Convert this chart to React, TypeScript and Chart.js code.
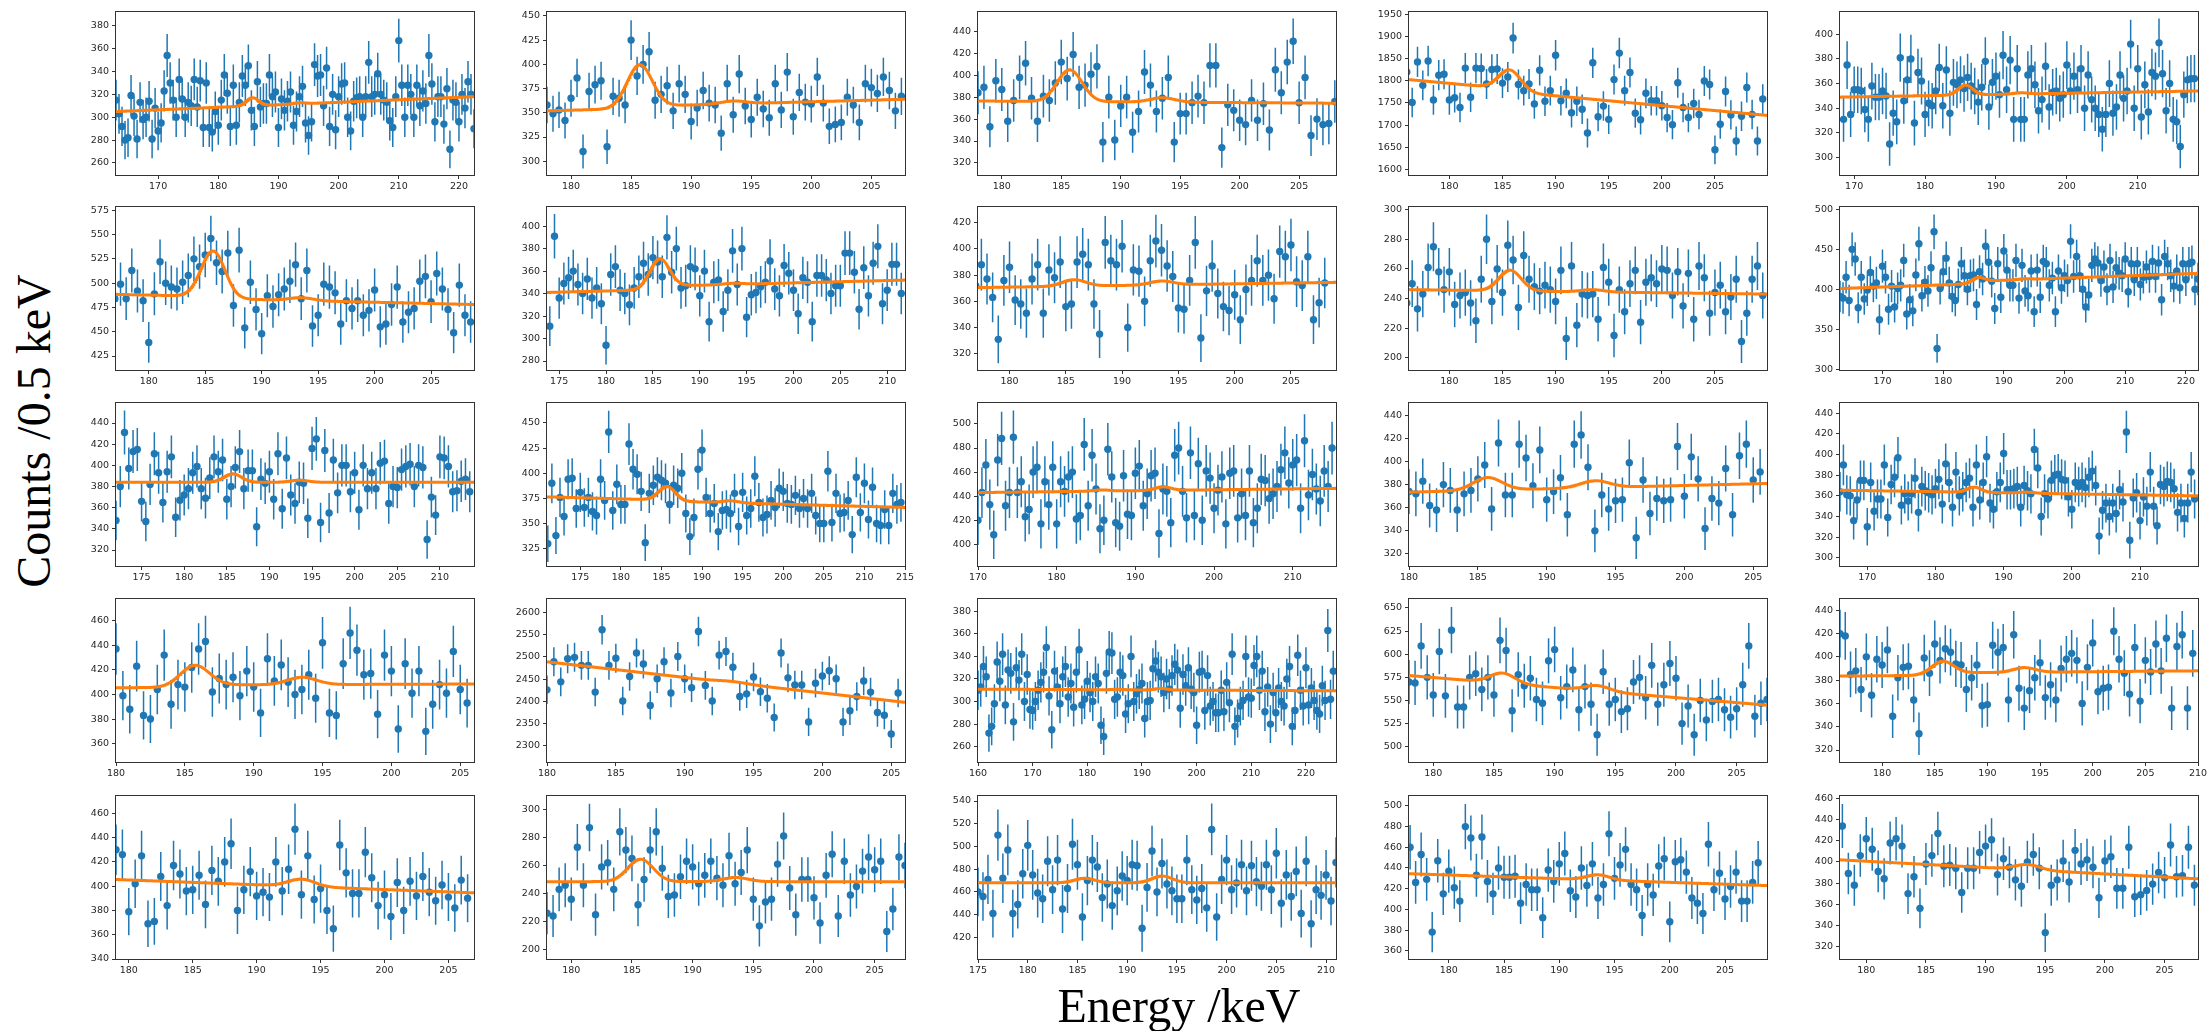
import React, { useEffect, useRef } from "react";
import { Chart, registerables } from "chart.js";

Chart.register(...registerables);

// Counts per 0.5 keV bin for each spectrum (row by row, left to right)
const countsR1C1 = [315,303,292,280,282,319,301,281,313,298,300,314,281,308,288,295,323,354,330,315,300,333,316,300,313,310,333,309,332,291,330,291,287,305,293,315,337,321,292,328,293,313,336,328,345,306,292,331,309,312,312,337,318,322,291,316,306,314,322,293,305,318,327,295,284,296,346,336,337,310,343,292,320,289,318,329,330,300,288,314,317,318,300,318,348,318,320,338,320,315,313,297,291,318,367,328,300,328,320,300,328,310,323,312,354,329,296,318,318,294,325,272,315,313,296,320,308,331,320,290];
const countsR1C2 = [358,349,353,342,365,386,310,372,379,383,315,367,365,358,425,388,400,413,363,369,378,352,380,369,341,355,373,360,358,329,380,348,390,357,343,366,354,345,380,353,392,346,371,361,359,387,360,336,338,340,366,358,340,380,376,370,387,373,352,367];
const countsR1C3 = [384,389,353,395,387,358,377,398,411,379,358,381,377,393,412,397,419,389,391,401,408,339,380,341,372,380,348,367,403,391,367,379,398,339,365,365,375,381,375,409,409,334,373,368,359,355,377,359,374,350,405,384,412,431,375,398,345,360,355,356,376];
const countsR1C4 = [1820,1751,1843,1790,1845,1757,1813,1815,1757,1762,1740,1829,1763,1829,1828,1793,1826,1827,1795,1809,1897,1792,1778,1793,1748,1824,1754,1778,1858,1755,1772,1728,1754,1736,1682,1841,1719,1743,1713,1803,1863,1778,1819,1727,1712,1772,1755,1755,1744,1717,1701,1796,1740,1717,1749,1724,1800,1792,1644,1702,1776,1723,1664,1720,1785,1724,1664,1759];
const countsR1C5 = [331,375,335,355,355,354,339,331,358,349,349,354,350,311,336,329,381,346,363,380,328,369,362,335,344,342,354,373,342,371,336,361,359,363,356,365,358,354,345,357,378,341,361,366,351,383,355,379,331,372,331,331,367,372,359,338,347,374,341,353,354,348,351,375,354,366,355,372,340,367,347,340,335,323,335,360,336,341,367,348,354,392,340,372,333,359,337,369,366,393,368,338,360,331,329,309,351,363,364,364];

const countsR2C1 = [484,499,484,513,492,482,439,489,522,500,496,494,501,508,525,517,529,546,521,512,531,477,534,454,501,473,448,487,476,488,494,502,519,484,513,456,467,499,496,490,458,482,474,482,467,472,493,455,458,478,496,460,470,474,502,507,481,510,494,473,449,498,467,460];
const countsR2C2 = [311,391,336,349,354,360,348,340,353,336,345,331,294,357,364,343,340,330,345,355,367,357,372,368,355,390,359,380,345,347,364,362,338,360,315,350,352,324,343,378,348,380,319,339,341,346,350,369,344,338,365,358,343,322,354,350,315,356,356,352,340,347,347,376,376,359,326,363,338,367,382,331,343,366,366,340];
const countsR2C3 = [372,388,377,363,331,376,386,361,358,351,377,388,351,384,378,390,356,358,390,396,388,358,335,405,391,388,402,340,384,383,360,391,406,399,387,379,355,354,376,405,332,368,387,366,356,353,365,346,369,376,391,376,380,362,398,394,403,375,372,394,346,359,374];
const countsR2C4 = [237,250,233,243,261,275,258,246,258,236,242,244,237,225,253,280,238,260,244,276,266,234,269,253,248,245,249,246,238,259,213,262,222,243,242,243,226,261,251,215,246,231,250,259,224,251,254,250,260,259,242,258,235,257,226,262,254,230,244,249,231,241,253,211,230,253,262,242];
const countsR2C5 = [391,389,415,386,450,438,377,415,388,399,421,404,408,362,429,415,375,404,378,401,405,436,369,387,373,418,457,392,409,398,427,472,326,401,422,439,408,391,386,406,432,417,400,417,418,381,422,413,454,434,410,376,432,390,448,424,405,405,436,389,430,398,392,423,372,424,390,435,432,405,414,372,423,402,417,411,460,416,441,417,400,378,393,430,438,433,411,428,400,436,403,427,420,417,438,397,432,412,432,406,415,428,416,435,416,433,387,441,432,417,404,423,402,432,412,432,434,400,413];

const countsR3C1 = [348,380,431,397,413,415,366,347,382,411,393,365,394,408,351,367,372,378,393,399,378,369,388,408,394,405,368,380,398,413,378,395,395,342,387,383,394,368,411,359,407,372,364,384,383,350,416,425,346,414,355,405,374,400,400,375,393,358,400,378,393,378,402,404,364,380,379,396,399,401,380,400,398,330,370,353,408,407,399,375,376,385,387,375];
const countsR3C2 = [330,390,338,376,357,394,395,365,381,366,376,362,358,394,373,441,363,389,369,369,429,404,399,382,331,380,388,396,393,390,369,388,385,400,360,337,356,404,423,376,360,370,342,363,364,360,380,347,381,358,365,397,371,356,359,373,366,385,382,370,369,378,365,375,365,380,358,350,350,402,351,380,360,361,373,339,396,361,390,354,386,350,348,364,348,380,369,371];
const countsR3C3 = [420,443,466,433,408,470,488,432,443,489,443,452,423,429,460,464,417,452,433,464,417,452,444,456,460,421,424,483,432,474,446,413,420,479,456,418,415,457,425,424,459,465,432,442,457,459,409,446,444,418,474,480,444,422,476,424,467,420,461,455,430,445,456,417,459,461,422,442,424,461,418,430,454,453,438,442,448,462,476,451,466,470,430,486,441,458,446,436,461,448,480];
const countsR3C4 = [374,372,383,362,358,380,375,358,372,375,385,397,359,416,371,371,415,403,379,410,367,374,386,354,415,423,395,340,371,359,366,367,399,334,384,355,368,366,367,413,370,404,385,342,368,364,394,354,405,415,384,391];
const countsR3C5 = [364,390,361,360,336,356,375,375,330,373,345,357,357,390,339,371,378,397,351,362,355,362,377,344,369,365,363,361,367,376,352,391,373,349,383,360,364,373,377,349,390,356,373,398,353,347,364,373,401,366,366,367,369,349,370,365,362,405,387,340,362,357,375,380,381,376,375,359,347,373,369,373,368,378,384,370,321,346,353,340,353,343,366,354,422,317,358,363,336,359,350,383,350,331,371,369,374,373,367,344,353,338,353,383,357];

const countsR4C1 = [437,399,388,423,383,380,404,432,392,408,406,422,437,443,402,413,408,414,399,419,406,385,429,411,424,410,400,404,416,397,442,385,383,425,450,436,416,417,384,432,419,372,425,401,419,370,392,408,401,435,404,393];
const countsR4C2 = [2426,2489,2444,2496,2499,2481,2481,2421,2561,2481,2497,2401,2456,2509,2484,2391,2451,2489,2419,2501,2451,2431,2557,2436,2401,2504,2512,2477,2411,2417,2455,2422,2407,2364,2509,2453,2437,2437,2354,2441,2457,2469,2451,2354,2379,2411,2446,2421,2375,2369,2327,2419];
const countsR4C3 = [310,313,331,322,272,278,298,335,318,342,297,328,325,282,330,319,342,300,324,293,292,300,310,317,326,348,305,275,327,313,298,322,331,304,316,295,326,346,297,302,318,308,300,322,316,279,269,325,344,343,302,304,326,323,289,298,340,300,307,311,316,285,300,301,329,336,326,322,308,320,311,323,333,328,294,324,314,330,311,308,279,326,327,292,323,296,300,290,290,310,291,317,299,342,278,285,296,301,340,304,303,332,340,310,327,291,313,280,308,290,312,300,296,320,331,278,292,341,310,296,330,297,312,301,292,289,314,301,363,302,327];
const countsR4C4 = [570,569,609,575,556,603,555,626,543,543,575,579,562,575,556,615,604,539,578,566,574,551,547,593,605,553,565,583,540,565,546,513,581,546,551,538,541,570,575,553,588,546,567,590,574,525,544,513,550,529,549,551,540,532,541,567,609,533,547,551];
const countsR4C5 = [420,418,385,388,372,400,367,398,393,406,349,382,391,392,363,334,399,386,411,397,407,404,394,393,372,382,393,358,359,410,404,408,363,419,373,356,371,382,395,365,376,363,390,398,403,397,360,391,412,370,373,374,422,398,386,368,408,362,397,387,411,388,416,356,409,419,356,403];

const countsR5C1 = [430,426,379,402,425,369,371,408,384,417,410,396,397,409,385,413,404,420,435,380,397,412,392,395,391,420,396,414,447,393,425,389,398,380,365,434,411,394,394,428,407,384,393,375,403,380,404,392,408,395,388,401,391,382,405,390];
const countsR5C2 = [226,224,243,246,236,273,246,287,225,259,262,243,284,271,265,232,250,271,284,258,238,239,252,263,259,247,253,263,251,246,267,247,255,271,236,217,234,236,261,281,244,225,250,250,237,219,253,268,224,263,239,245,256,266,257,263,213,229,266,260];
const countsR5C3 = [460,456,471,441,510,472,497,441,449,476,501,475,459,454,487,462,488,445,463,502,484,438,470,488,482,455,467,448,461,474,470,484,483,428,464,496,460,485,467,461,454,454,488,462,453,463,446,515,438,471,488,462,468,484,461,483,469,465,484,462,494,450,475,456,478,441,487,432,462,457,475,452,486];
const countsR5C4 = [460,426,453,429,378,447,415,437,421,408,480,469,433,470,427,415,440,431,431,432,406,424,419,419,392,438,427,444,454,418,412,440,423,444,411,424,473,430,443,458,424,419,394,424,414,442,449,388,446,448,436,411,406,396,463,419,435,410,422,436,408,408,426,445];
const countsR5C5 = [434,389,378,406,422,412,391,384,418,422,415,370,386,356,398,406,427,396,397,394,371,394,394,409,415,421,388,403,395,383,377,400,407,394,333,378,383,401,381,411,398,402,395,366,401,405,375,375,414,367,369,373,379,390,385,416,386,387,414,378];

const spectra = [
  countsR1C1, countsR1C2, countsR1C3, countsR1C4, countsR1C5,
  countsR2C1, countsR2C2, countsR2C3, countsR2C4, countsR2C5,
  countsR3C1, countsR3C2, countsR3C3, countsR3C4, countsR3C5,
  countsR4C1, countsR4C2, countsR4C3, countsR4C4, countsR4C5,
  countsR5C1, countsR5C2, countsR5C3, countsR5C4, countsR5C5,
];

// Energy of the first bin of each spectrum (keV); bins are 0.5 keV wide
const firstBinEnergy = [163, 178, 178, 176, 168.5, 177, 174, 177, 176, 163, 172, 171, 170, 180, 166, 180, 180, 160, 178, 176, 179, 178, 175, 176.5, 178];
const binWidth = 0.5;

// Axis limits
const energyLimits = [
  [163, 222.5], [178, 207.8], [178, 208.1], [176.2, 209.9], [168, 218.5],
  [177.1, 208.8], [173.7, 211.9], [177.2, 209], [176.2, 209.9], [163, 222],
  [172, 214], [170.9, 215], [170, 215.5], [180, 206], [166, 218.5],
  [180, 206], [180, 206], [160, 225.5], [178, 207.5], [176, 210],
  [179, 207], [178, 207.5], [175, 211], [176.4, 208.8], [177.8, 207.8],
];
const countLimits = [
  [249.5, 392], [285.8, 454], [309, 457.7], [1587, 1956], [285.9, 418],
  [410.6, 578.4], [272, 417], [307.6, 432], [191.7, 301.8], [299, 503],
  [304.9, 458.9], [307.8, 469.8], [382, 517.4], [309.6, 450.6], [292, 450],
  [345.1, 477.6], [2264, 2630], [246.4, 390.9], [483.5, 659.7], [309.7, 449.7],
  [340, 474.3], [193.4, 309.5], [401, 544.4], [352, 509.6], [308, 462.5],
];
const energyTickStep = [10, 5, 5, 5, 10, 5, 5, 5, 5, 10, 5, 5, 10, 5, 10, 5, 5, 10, 5, 5, 5, 5, 5, 5, 5];
const countTickStep = [20, 25, 20, 50, 20, 25, 20, 20, 20, 50, 20, 25, 20, 20, 20, 20, 50, 20, 25, 20, 20, 20, 20, 20, 20];

// Relative size of the plotted error bars (Poisson sqrt(N) times this)
const errorFactor = [1, 1, 1, 0.8, 1, 1, 1, 1, 1, 1, 1, 1, 1, 1, 1, 1, 0.65, 1, 1, 1, 1, 1, 1, 1, 1];

// Fit model: linear background (left, right), peak at 185.7 keV, peak at 193.5 keV, step under first peak
const fitBackgroundLeft = [305, 354, 376.5, 1797, 349, 486.5, 344, 370.5, 246, 404, 384, 375.5, 443, 373.5, 365.5, 407.5, 2489, 311, 577, 385.5, 405.5, 248.5, 468, 434.5, 402];
const fitBackgroundRight = [318, 364, 374.5, 1722, 354, 478, 352, 374.5, 243, 420, 384, 366, 446.5, 381, 360, 408.5, 2398, 309.5, 545, 388, 394.5, 248.5, 468, 423, 384];
const fitPeak1 = [7, 44, 29, 46, 8, 48, 26, 5, 14, 6, 8, 14, 1, 11, 5, 17, 0, 0.5, 11, 11, 0, 16, 4, 0, 0];
const fitPeak2 = [1, 3, 4, 0, 1, 3, 1, 3, 1.5, 1, 2, 2, 3, 6, 1, 6, 3, 1.5, 6, 4, 6, 3, 6, 5, 5];
const fitStep = [0, -2, 0, 6, 0, 2, -3, 0, 0, -3, 0, 1, 0, 0, 0, -2, 0, 0, 0, -2, 0, 0, 0, 0, 0];
const peakCentre1 = 185.7;
const peakCentre2 = 193.5;
const peakSigma = 1.05;

// Panel grid geometry (plot area of each panel, in page pixels)
const columnLeft = [116, 547, 978, 1409, 1840];
const rowTop = [12, 207, 403, 599, 796];
const plotWidth = 358;
const plotHeight = 163;

const BLUE = "#1f77b4";
const ORANGE = "#ff7f0e";
const TICK_FONT = { family: "'DejaVu Sans', sans-serif", size: 9.5 };
const TICK_COLOR = "#262626";

const AXIS_W = 46;
const PAD_TOP = 10;
const PAD_RIGHT = 14;
const AXIS_H = 26;

function erf(x: number) {
  const s = Math.sign(x);
  const a = Math.abs(x);
  const t = 1 / (1 + 0.3275911 * a);
  const y = 1 - ((((1.061405429 * t - 1.453152027) * t + 1.421413741) * t - 0.284496736) * t + 0.254829592) * t * Math.exp(-a * a);
  return s * y;
}

function fitValue(i: number, e: number) {
  const [x0, x1] = energyLimits[i];
  const bg = fitBackgroundLeft[i] + (fitBackgroundRight[i] - fitBackgroundLeft[i]) * (e - x0) / (x1 - x0);
  const z1 = (e - peakCentre1) / peakSigma;
  const z2 = (e - peakCentre2) / peakSigma;
  const step = fitStep[i] * 0.5 * (1 - erf(z1 / Math.SQRT2));
  return bg + step + fitPeak1[i] * Math.exp(-0.5 * z1 * z1) + fitPeak2[i] * Math.exp(-0.5 * z2 * z2);
}

function tickValues(min: number, max: number, step: number) {
  const out: { value: number }[] = [];
  for (let v = Math.ceil(min / step - 1e-9) * step; v <= max + 1e-9; v += step) {
    out.push({ value: Math.round(v * 1000) / 1000 });
  }
  return out;
}

function Panel({ index }: { index: number }) {
  const ref = useRef<HTMLCanvasElement | null>(null);
  const row = Math.floor(index / 5);
  const col = index % 5;
  const width = AXIS_W + plotWidth + PAD_RIGHT;
  const height = PAD_TOP + plotHeight + AXIS_H;

  useEffect(() => {
    if (!ref.current) return;
    const counts = spectra[index];
    const points = counts.map((c, k) => ({ x: firstBinEnergy[index] + k * binWidth, y: c }));
    const errs = counts.map((c) => Math.sqrt(c) * errorFactor[index]);
    const [x0, x1] = energyLimits[index];
    const [y0, y1] = countLimits[index];
    const fitPts: { x: number; y: number }[] = [];
    for (let e = x0; e <= x1 + 1e-9; e += 0.05) fitPts.push({ x: e, y: fitValue(index, e) });

    const errorBars = {
      id: "errorBars",
      beforeDatasetsDraw(chart: any) {
        const { ctx, chartArea, scales } = chart;
        ctx.save();
        ctx.beginPath();
        ctx.rect(chartArea.left, chartArea.top, chartArea.right - chartArea.left, chartArea.bottom - chartArea.top);
        ctx.clip();
        ctx.strokeStyle = BLUE;
        ctx.lineWidth = 1.5;
        ctx.beginPath();
        points.forEach((p, k) => {
          const px = scales.x.getPixelForValue(p.x);
          ctx.moveTo(px, scales.y.getPixelForValue(p.y - errs[k]));
          ctx.lineTo(px, scales.y.getPixelForValue(p.y + errs[k]));
        });
        ctx.stroke();
        ctx.restore();
      },
    };
    const frame = {
      id: "frame",
      afterDraw(chart: any) {
        const { ctx, chartArea } = chart;
        ctx.save();
        ctx.strokeStyle = "#333";
        ctx.lineWidth = 1;
        ctx.strokeRect(chartArea.left - 0.5, chartArea.top - 0.5, chartArea.right - chartArea.left + 1, chartArea.bottom - chartArea.top + 1);
        ctx.restore();
      },
    };

    const chart = new Chart(ref.current, {
      type: "scatter",
      data: {
        datasets: [
          { data: fitPts, showLine: true, borderColor: ORANGE, borderWidth: 3, pointRadius: 0, tension: 0 },
          { data: points, pointRadius: 3.7, pointBackgroundColor: BLUE, pointBorderWidth: 0, borderColor: BLUE },
        ],
      } as any,
      options: {
        responsive: false,
        animation: false,
        events: [],
        layout: { padding: { left: 0, top: PAD_TOP, right: PAD_RIGHT, bottom: 0 } },
        plugins: { legend: { display: false }, tooltip: { enabled: false } },
        scales: {
          x: {
            type: "linear",
            min: x0,
            max: x1,
            afterFit: (s: any) => { s.height = AXIS_H; },
            afterBuildTicks: (s: any) => { s.ticks = tickValues(x0, x1, energyTickStep[index]); },
            ticks: { font: TICK_FONT, color: TICK_COLOR, padding: 2, maxRotation: 0, minRotation: 0, autoSkip: false, callback: (v: any) => String(v) },
            grid: { drawOnChartArea: false, drawTicks: true, tickLength: 4, color: "#333" },
            border: { display: false },
          },
          y: {
            type: "linear",
            min: y0,
            max: y1,
            afterFit: (s: any) => { s.width = AXIS_W; },
            afterBuildTicks: (s: any) => { s.ticks = tickValues(y0, y1, countTickStep[index]); },
            ticks: { font: TICK_FONT, color: TICK_COLOR, padding: 3, autoSkip: false, callback: (v: any) => String(v) },
            grid: { drawOnChartArea: false, drawTicks: true, tickLength: 4, color: "#333" },
            border: { display: false },
          },
        },
      } as any,
      plugins: [errorBars, frame],
    });
    return () => chart.destroy();
  }, [index]);

  return (
    <canvas
      ref={ref}
      width={width}
      height={height}
      style={{ position: "absolute", left: columnLeft[col] - AXIS_W, top: rowTop[row] - PAD_TOP, width, height }}
    />
  );
}

export default function App() {
  return (
    <div style={{ position: "absolute", left: 0, top: 0, width: 2208, height: 1031, background: "#fff", overflow: "hidden" }}>
      {spectra.map((_, i) => (
        <Panel key={i} index={i} />
      ))}
      <div
        style={{
          position: "absolute",
          left: 34,
          top: 431,
          transform: "translate(-50%, -50%) rotate(-90deg)",
          fontFamily: "'Liberation Serif', 'Times New Roman', serif",
          fontSize: 48,
          lineHeight: 1,
          whiteSpace: "nowrap",
          color: "#000",
        }}
      >
        Counts /0.5 keV
      </div>
      <div
        style={{
          position: "absolute",
          left: 1179,
          top: 1006,
          transform: "translate(-50%, -50%)",
          fontFamily: "'Liberation Serif', 'Times New Roman', serif",
          fontSize: 48,
          lineHeight: 1,
          whiteSpace: "nowrap",
          color: "#000",
        }}
      >
        Energy /keV
      </div>
    </div>
  );
}
